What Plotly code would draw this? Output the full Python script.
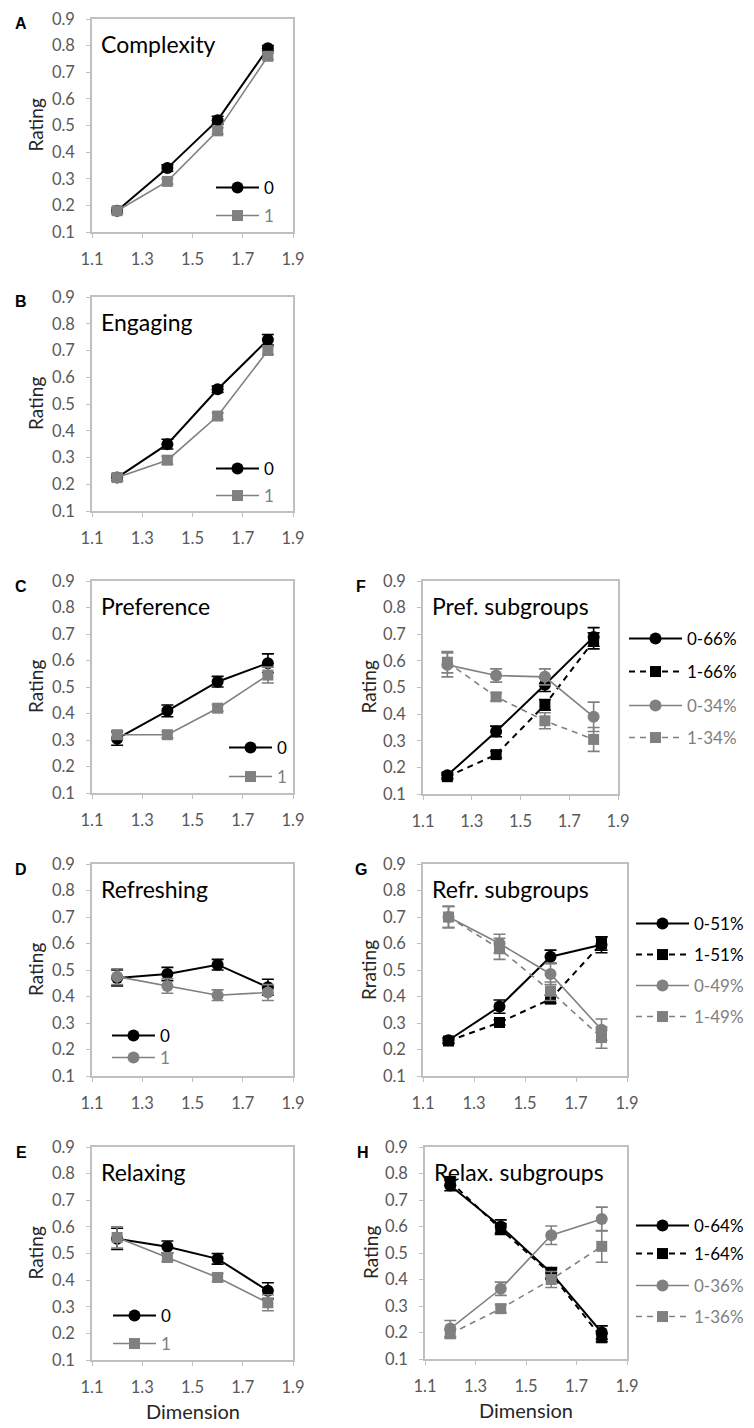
import plotly.graph_objects as go

W, H = 754, 1428
OFF_X = 8  # page body margin compensation (px)
OFF_Y = 4
dims = [1.2, 1.4, 1.6, 1.8]
x_ticks = [1.1, 1.3, 1.5, 1.7, 1.9]
y_ticks = [0.1, 0.2, 0.3, 0.4, 0.5, 0.6, 0.7, 0.8, 0.9]

# Panel A - Complexity
complexity_0 = [0.18, 0.34, 0.52, 0.79]
complexity_0_err = [0.01, 0.012, 0.015, 0.01]
complexity_1 = [0.18, 0.29, 0.48, 0.76]
complexity_1_err = [0.01, 0.01, 0.012, 0.012]
# Panel B - Engaging
engaging_0 = [0.225, 0.35, 0.555, 0.74]
engaging_0_err = [0.012, 0.018, 0.012, 0.02]
engaging_1 = [0.225, 0.29, 0.455, 0.70]
engaging_1_err = [0.012, 0.015, 0.012, 0.015]
# Panel C - Preference
preference_0 = [0.305, 0.41, 0.52, 0.59]
preference_0_err = [0.025, 0.022, 0.02, 0.035]
preference_1 = [0.32, 0.32, 0.42, 0.545]
preference_1_err = [0.015, 0.012, 0.012, 0.03]
# Panel D - Refreshing
refreshing_0 = [0.47, 0.485, 0.52, 0.435]
refreshing_0_err = [0.03, 0.025, 0.02, 0.03]
refreshing_1 = [0.475, 0.44, 0.405, 0.415]
refreshing_1_err = [0.03, 0.028, 0.02, 0.03]
# Panel E - Relaxing
relaxing_0 = [0.555, 0.525, 0.48, 0.36]
relaxing_0_err = [0.04, 0.022, 0.02, 0.03]
relaxing_1 = [0.56, 0.485, 0.41, 0.315]
relaxing_1_err = [0.04, 0.015, 0.015, 0.03]
# Panel F - Pref. subgroups
pref_0_66 = [0.17, 0.335, 0.51, 0.69]
pref_0_66_err = [0.01, 0.02, 0.025, 0.035]
pref_1_66 = [0.165, 0.248, 0.435, 0.675]
pref_1_66_err = [0.01, 0.012, 0.02, 0.03]
pref_0_34 = [0.585, 0.545, 0.54, 0.39]
pref_0_34_err = [0.045, 0.025, 0.03, 0.055]
pref_1_34 = [0.595, 0.465, 0.375, 0.305]
pref_1_34_err = [0.04, 0.015, 0.03, 0.045]
# Panel G - Refr. subgroups
refr_0_51 = [0.235, 0.362, 0.55, 0.595]
refr_0_51_err = [0.01, 0.025, 0.025, 0.03]
refr_1_51 = [0.232, 0.302, 0.39, 0.60]
refr_1_51_err = [0.01, 0.01, 0.015, 0.025]
refr_0_49 = [0.70, 0.60, 0.485, 0.275]
refr_0_49_err = [0.04, 0.035, 0.04, 0.04]
refr_1_49 = [0.70, 0.58, 0.42, 0.245]
refr_1_49_err = [0.04, 0.04, 0.035, 0.04]
# Panel H - Relax. subgroups
relax_0_64 = [0.755, 0.60, 0.425, 0.20]
relax_0_64_err = [0.02, 0.025, 0.02, 0.025]
relax_1_64 = [0.77, 0.59, 0.42, 0.18]
relax_1_64_err = [0.015, 0.02, 0.02, 0.015]
relax_0_36 = [0.215, 0.365, 0.567, 0.628]
relax_0_36_err = [0.03, 0.025, 0.035, 0.045]
relax_1_36 = [0.195, 0.29, 0.40, 0.525]
relax_1_36_err = [0.015, 0.015, 0.03, 0.06]

BLACK = "#000000"
GREY = "#808080"
FONT = "Lato"
DASH = "6px,5px"

# panel boxes in pixels: (left, right, top, bottom); legend: x and row centres
panels = [
    dict(letter="A", title="Complexity", box=(92, 293, 15, 228), ytitle="Rating", xtitle=None,
         series=[("0", complexity_0, complexity_0_err, BLACK, "circle", "solid"),
                 ("1", complexity_1, complexity_1_err, GREY, "square", "solid")],
         legx=211, rows=[184, 212]),
    dict(letter="B", title="Engaging", box=(92, 293, 293, 507), ytitle="Rating", xtitle=None,
         series=[("0", engaging_0, engaging_0_err, BLACK, "circle", "solid"),
                 ("1", engaging_1, engaging_1_err, GREY, "square", "solid")],
         legx=211, rows=[465, 492]),
    dict(letter="C", title="Preference", box=(92, 293, 577, 789), ytitle="Rating", xtitle=None,
         series=[("0", preference_0, preference_0_err, BLACK, "circle", "solid"),
                 ("1", preference_1, preference_1_err, GREY, "square", "solid")],
         legx=224, rows=[744, 773]),
    dict(letter="D", title="Refreshing", box=(92, 293, 860, 1072), ytitle="Rating", xtitle=None,
         series=[("0", refreshing_0, refreshing_0_err, BLACK, "circle", "solid"),
                 ("1", refreshing_1, refreshing_1_err, GREY, "circle", "solid")],
         legx=107, rows=[1032, 1054]),
    dict(letter="E", title="Relaxing", box=(92, 293, 1143, 1356), ytitle="Rating", xtitle="Dimension",
         series=[("0", relaxing_0, relaxing_0_err, BLACK, "circle", "solid"),
                 ("1", relaxing_1, relaxing_1_err, GREY, "square", "solid")],
         legx=108, rows=[1312, 1340]),
    dict(letter="F", title="Pref. subgroups", box=(423, 618, 577, 790), ytitle="Rating", xtitle=None,
         series=[("0-66%", pref_0_66, pref_0_66_err, BLACK, "circle", "solid"),
                 ("1-66%", pref_1_66, pref_1_66_err, BLACK, "square", DASH),
                 ("0-34%", pref_0_34, pref_0_34_err, GREY, "circle", "solid"),
                 ("1-34%", pref_1_34, pref_1_34_err, GREY, "square", DASH)],
         legx=624, rows=[635, 668, 702, 734]),
    dict(letter="G", title="Refr. subgroups", box=(423, 627, 860, 1072), ytitle="Rrating", xtitle=None,
         series=[("0-51%", refr_0_51, refr_0_51_err, BLACK, "circle", "solid"),
                 ("1-51%", refr_1_51, refr_1_51_err, BLACK, "square", DASH),
                 ("0-49%", refr_0_49, refr_0_49_err, GREY, "circle", "solid"),
                 ("1-49%", refr_1_49, refr_1_49_err, GREY, "square", DASH)],
         legx=631, rows=[920, 951, 982, 1013]),
    dict(letter="H", title="Relax. subgroups", box=(425, 627, 1143, 1355), ytitle="Rating", xtitle="Dimension",
         series=[("0-64%", relax_0_64, relax_0_64_err, BLACK, "circle", "solid"),
                 ("1-64%", relax_1_64, relax_1_64_err, BLACK, "square", DASH),
                 ("0-36%", relax_0_36, relax_0_36_err, GREY, "circle", "solid"),
                 ("1-36%", relax_1_36, relax_1_36_err, GREY, "square", DASH)],
         legx=631, rows=[1222, 1250, 1282, 1313]),
]


def px(x):
    return (x - OFF_X) / W


def py(y):
    return 1 - (y - OFF_Y) / H


fig = go.Figure()
layout = dict(width=W, height=H, margin=dict(l=0, r=0, t=0, b=0, autoexpand=False),
              paper_bgcolor="white", plot_bgcolor="white",
              font=dict(family=FONT, color="#595959", size=16), annotations=[])

leg_idx = 0
for i, p in enumerate(panels, start=1):
    sfx = "" if i == 1 else str(i)
    L, R, T, B = p["box"]
    right_col = len(p["series"]) == 4
    for k, (name, ys, err, col, sym, dash) in enumerate(p["series"]):
        leg_idx += 1
        lname = "legend" if leg_idx == 1 else f"legend{leg_idx}"
        label = name if col == BLACK else f'<span style="color:{GREY}">{name}</span>'
        fig.add_trace(go.Scatter(
            x=dims, y=ys, name=label, mode="lines+markers",
            xaxis="x" + sfx, yaxis="y" + sfx, legend=lname,
            line=dict(color=col, width=2 if col == BLACK else 1.6, dash=dash),
            marker=dict(color=col, symbol=sym, size=12 if sym == "circle" else 11),
            error_y=dict(type="data", array=err, visible=True, color=col, thickness=1.6, width=6),
        ))
        layout[lname] = dict(x=px(p["legx"]), y=py(p["rows"][k]), xanchor="left", yanchor="middle",
                             bgcolor="rgba(0,0,0,0)", font=dict(family=FONT, size=17, color=BLACK),
                             itemwidth=53 if right_col else 43, itemclick=False)
    common = dict(showline=True, mirror=True, linecolor="#c0c0c0", linewidth=1.5,
                  ticks="outside", ticklen=4, tickcolor="#c0c0c0", showgrid=False,
                  zeroline=False, automargin=False, ticklabeloverflow="allow",
                  tickfont=dict(family=FONT, size=16.5, color="#595959"))
    layout["xaxis" + sfx] = dict(domain=[px(L), px(R)], range=[1.1, 1.9], tickvals=x_ticks,
                                 ticktext=[f"{v:.1f}" for v in x_ticks], ticklabelstandoff=7,
                                 anchor="y" + sfx, **common)
    layout["yaxis" + sfx] = dict(domain=[py(B), py(T)], range=[0.1, 0.9], tickvals=y_ticks,
                                 ticktext=[f"{v:.1f}" for v in y_ticks], ticklabelstandoff=8,
                                 anchor="x" + sfx, **common)
    # inner title
    layout["annotations"].append(dict(text=p["title"], x=px(L + 7), y=py(T + 25),
                                      xref="paper", yref="paper", xanchor="left", yanchor="middle",
                                      showarrow=False, font=dict(family=FONT, size=23, color=BLACK)))
    # panel letter
    layout["annotations"].append(dict(text=f"<b>{p['letter']}</b>",
                                      x=px(21 if not right_col else L - 62), y=py(T + 5),
                                      xref="paper", yref="paper", xanchor="center", yanchor="middle",
                                      showarrow=False,
                                      font=dict(family="Liberation Sans", size=16, color=BLACK)))
    # y-axis title
    layout["annotations"].append(dict(text=p["ytitle"], x=px(35 if not right_col else L - 55),
                                      y=py((T + B) / 2), xref="paper", yref="paper",
                                      xanchor="center", yanchor="middle", textangle=-90, showarrow=False,
                                      font=dict(family=FONT, size=19, color="#262626")))
    if p["xtitle"]:
        layout["annotations"].append(dict(text=p["xtitle"], x=px((L + R) / 2), y=py(B + 51),
                                          xref="paper", yref="paper", xanchor="center", yanchor="middle",
                                          showarrow=False, font=dict(family=FONT, size=20, color="#262626")))

fig.update_layout(**layout)
fig.update_layout(showlegend=True)
fig.write_html("out.html")
